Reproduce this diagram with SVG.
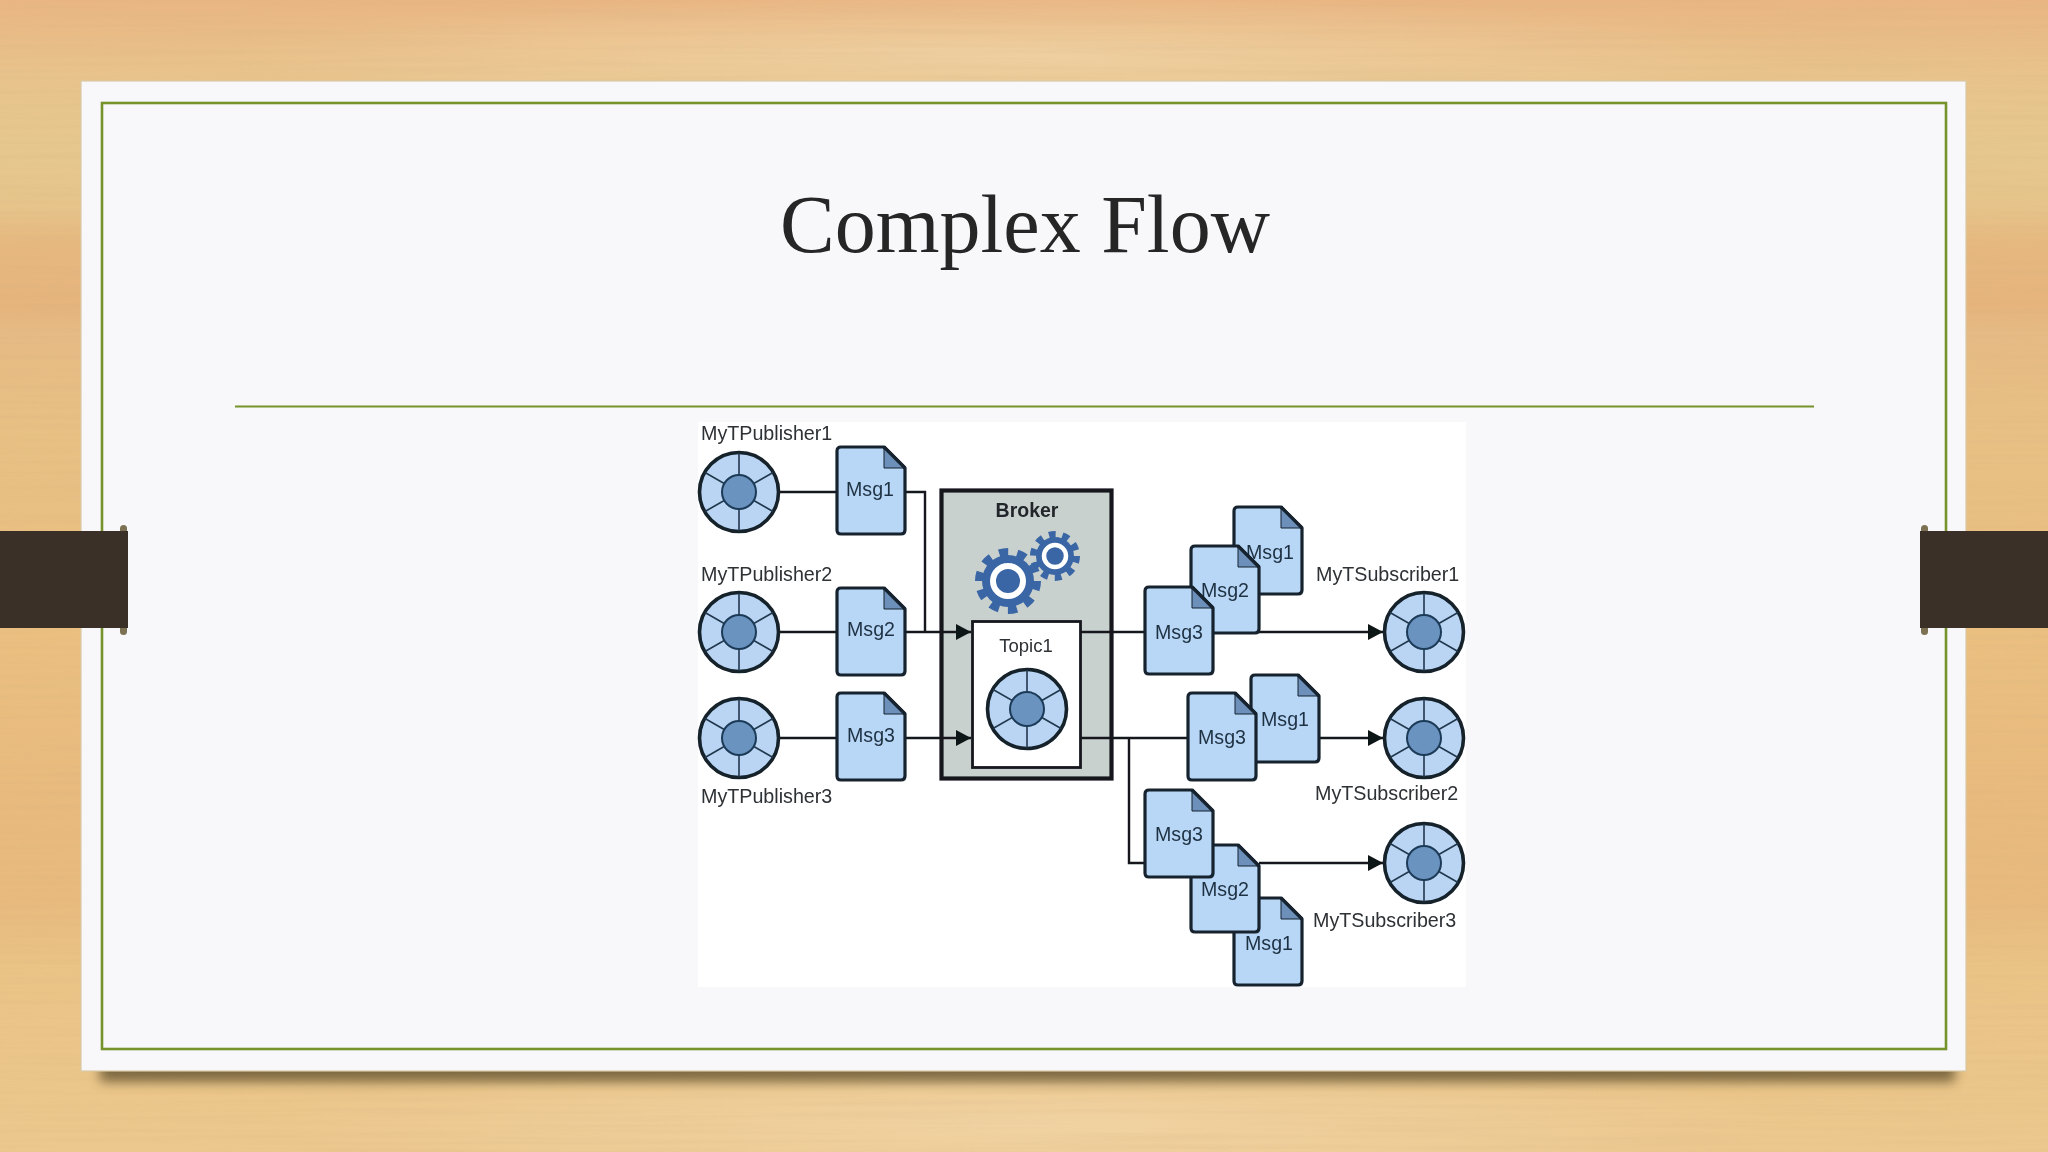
<svg xmlns="http://www.w3.org/2000/svg" width="2048" height="1152" viewBox="0 0 2048 1152">
<defs>
<linearGradient id="wood" x1="0" y1="0" x2="0" y2="1">
<stop offset="0" stop-color="#e9b683"/><stop offset="0.03" stop-color="#e9bc86"/><stop offset="0.07" stop-color="#e8c48c"/>
<stop offset="0.13" stop-color="#e6c88e"/><stop offset="0.18" stop-color="#e6c48a"/><stop offset="0.21" stop-color="#e6b980"/>
<stop offset="0.265" stop-color="#e6b47d"/><stop offset="0.29" stop-color="#e6bb84"/><stop offset="0.38" stop-color="#e8c084"/>
<stop offset="0.55" stop-color="#eabf80"/><stop offset="0.71" stop-color="#e8ba7d"/><stop offset="0.78" stop-color="#e8ba7d"/>
<stop offset="0.84" stop-color="#eac386"/><stop offset="1" stop-color="#ecc88e"/>
</linearGradient>
<radialGradient id="pale" cx="0.5" cy="0.5" r="0.5">
<stop offset="0" stop-color="#f4dcb4" stop-opacity="0.55"/><stop offset="1" stop-color="#f4dcb4" stop-opacity="0"/>
</radialGradient>
<filter id="grain" x="0" y="0" width="100%" height="100%">
<feTurbulence type="fractalNoise" baseFrequency="0.004 0.2" numOctaves="3" seed="7"/>
<feColorMatrix type="matrix" values="0 0 0 0 0.62  0 0 0 0 0.42  0 0 0 0 0.22  0 0 0 1.4 -0.55"/>
</filter>
<filter id="soft" x="-10%" y="-100%" width="120%" height="300%"><feGaussianBlur stdDeviation="6"/></filter>
<filter id="jpeg" x="-2%" y="-2%" width="104%" height="104%"><feGaussianBlur stdDeviation="0.6"/></filter>
<marker id="head" markerUnits="userSpaceOnUse" markerWidth="15" markerHeight="18" refX="15" refY="9" orient="auto">
<path d="M0 1 L15 9 L0 17 Z" fill="#0f1317"/>
</marker>
<g id="doc">
<path d="M4 0 H47 L68 21 V83 Q68 87 64 87 H4 Q0 87 0 83 V4 Q0 0 4 0 Z" fill="#b8d6f5" stroke="#14232f" stroke-width="3.2" stroke-linejoin="round"/>
<path d="M47 1 V21 H67 Z" fill="#6d90bb" stroke="#14232f" stroke-width="1"/>
<path d="M47 0 L68 21" fill="none" stroke="#14232f" stroke-width="3.2"/>
</g>
<g id="wheel">
<circle r="39.5" fill="#b9d5f3" stroke="#14202c" stroke-width="3.6"/>
<g stroke="#22384e" stroke-width="1.6">
<path d="M0 -39 V39 M-34 -19.5 L34 19.5 M-34 19.5 L34 -19.5"/>
</g>
<circle r="17" fill="#6a93c0" stroke="#1d3a57" stroke-width="2"/>
</g>
</defs>
<style>
.lbl{font-family:"Liberation Sans",Arial,sans-serif;font-size:19.7px;fill:#2d3135}
.msg{font-family:"Liberation Sans",Arial,sans-serif;font-size:19.6px;fill:#1f3143;text-anchor:middle}
.ln{fill:none;stroke:#15191d;stroke-width:2.4}
.gear{fill:#3a66a5}
</style>

<g id="background">
<rect width="2048" height="1152" fill="url(#wood)"/>
<ellipse cx="1000" cy="55" rx="800" ry="60" fill="url(#pale)"/>
<ellipse cx="1030" cy="1125" rx="750" ry="75" fill="url(#pale)"/>
<rect width="2048" height="1152" filter="url(#grain)" opacity="0.22"/>
</g>

<g id="slide">
<rect x="100" y="1056" width="1855" height="26" fill="#4f4322" opacity="0.7" filter="url(#soft)"/>
<rect x="81" y="81" width="1885" height="990" fill="#f8f8fb" stroke="#d9c9a6" stroke-width="1.2"/>
<rect x="102" y="103" width="1844" height="946" fill="none" stroke="#76922a" stroke-width="2.6"/>
<line x1="235" y1="406.500" x2="1814" y2="406.500" stroke="#76922a" stroke-width="2.2"/>
<rect x="698" y="422" width="768" height="565" fill="#ffffff"/>
</g>

<g id="bands">
<rect x="120" y="525" width="7" height="110" rx="3.500" fill="#7d7153"/>
<rect x="1921" y="525" width="7" height="110" rx="3.500" fill="#7d7153"/>
<rect x="0" y="531" width="128" height="97" fill="#3a3027"/>
<rect x="1920" y="531" width="128" height="97" fill="#3a3027"/>
</g>

<text id="title" x="1025" y="252" text-anchor="middle" font-family="'Liberation Serif','Times New Roman',serif" font-size="82" fill="#262626">Complex Flow</text>

<g filter="url(#jpeg)">
<g id="broker">
<rect x="941.500" y="490.500" width="170" height="288" fill="#c9d1cf" stroke="#15191d" stroke-width="4.200"/>
<text x="1027" y="517" text-anchor="middle" font-family="'Liberation Sans',Arial,sans-serif" font-weight="700" font-size="19.500" fill="#23272b">Broker</text>
<g id="gear-small" transform="translate(1055 556)">
<circle r="19" class="gear"/>
<circle r="21.500" fill="none" stroke="#3a66a5" stroke-width="7" stroke-dasharray="6.750 6.760"/>
<circle r="11" fill="#3a66a5" stroke="#ffffff" stroke-width="4.500"/>
</g>
<g id="gear-large" transform="translate(1008 581)">
<circle r="26" class="gear"/>
<circle r="28.500" fill="none" stroke="#3a66a5" stroke-width="9" stroke-dasharray="9 8.900"/>
<circle r="15" fill="#3a66a5" stroke="#ffffff" stroke-width="6"/>
</g>
</g>
<g id="topic1">
<rect x="972.500" y="621.500" width="108" height="146" fill="#ffffff" stroke="#15191d" stroke-width="2.800"/>
<text x="1026" y="652" text-anchor="middle" font-family="'Liberation Sans',Arial,sans-serif" font-size="18.500" fill="#2d3135">Topic1</text>
<use href="#wheel" x="1027" y="709"/>
</g>

<g id="connectors">
<path class="ln" d="M779 492 H837"/>
<path class="ln" d="M779 632 H837"/>
<path class="ln" d="M779 738 H837"/>
<path class="ln" d="M905 492 H925 V632"/>
<path class="ln" d="M905 632 H971" marker-end="url(#head)"/>
<path class="ln" d="M905 738 H971" marker-end="url(#head)"/>
<path class="ln" d="M1081 632 H1145"/>
<path class="ln" d="M1213 632 H1383" marker-end="url(#head)"/>
<path class="ln" d="M1081 738 H1188"/>
<path class="ln" d="M1319 738 H1383" marker-end="url(#head)"/>
<path class="ln" d="M1129 738 V863 H1145"/>
<path class="ln" d="M1259 863 H1383" marker-end="url(#head)"/>
</g>

<g id="publisher1"><use href="#wheel" x="739" y="492"/><text class="lbl" x="701" y="440">MyTPublisher1</text></g>
<g id="publisher2"><use href="#wheel" x="739" y="632"/><text class="lbl" x="701" y="581">MyTPublisher2</text></g>
<g id="publisher3"><use href="#wheel" x="739" y="738"/><text class="lbl" x="701" y="803">MyTPublisher3</text></g>

<g id="pub-msg1"><use href="#doc" x="837" y="447"/><text class="msg" x="870" y="496">Msg1</text></g>
<g id="pub-msg2"><use href="#doc" x="837" y="588"/><text class="msg" x="871" y="636">Msg2</text></g>
<g id="pub-msg3"><use href="#doc" x="837" y="693"/><text class="msg" x="871" y="742">Msg3</text></g>

<g id="s1-msg1"><use href="#doc" x="1234" y="507"/><text class="msg" x="1270" y="559">Msg1</text></g>
<g id="s1-msg2"><use href="#doc" x="1191" y="546"/><text class="msg" x="1225" y="597">Msg2</text></g>
<g id="s1-msg3"><use href="#doc" x="1145" y="587"/><text class="msg" x="1179" y="639">Msg3</text></g>

<g id="s2-msg1"><use href="#doc" x="1251" y="675"/><text class="msg" x="1285" y="726">Msg1</text></g>
<g id="s2-msg3"><use href="#doc" x="1188" y="693"/><text class="msg" x="1222" y="744">Msg3</text></g>

<g id="s3-msg1"><use href="#doc" x="1234" y="898"/><text class="msg" x="1269" y="950">Msg1</text></g>
<g id="s3-msg2"><use href="#doc" x="1191" y="845"/><text class="msg" x="1225" y="896">Msg2</text></g>
<g id="s3-msg3"><use href="#doc" x="1145" y="790"/><text class="msg" x="1179" y="841">Msg3</text></g>

<g id="subscriber1"><use href="#wheel" x="1424" y="632"/><text class="lbl" x="1316" y="581">MyTSubscriber1</text></g>
<g id="subscriber2"><use href="#wheel" x="1424" y="738"/><text class="lbl" x="1315" y="800">MyTSubscriber2</text></g>
<g id="subscriber3"><use href="#wheel" x="1424" y="863"/><text class="lbl" x="1313" y="927">MyTSubscriber3</text></g>
</g>
</svg>
